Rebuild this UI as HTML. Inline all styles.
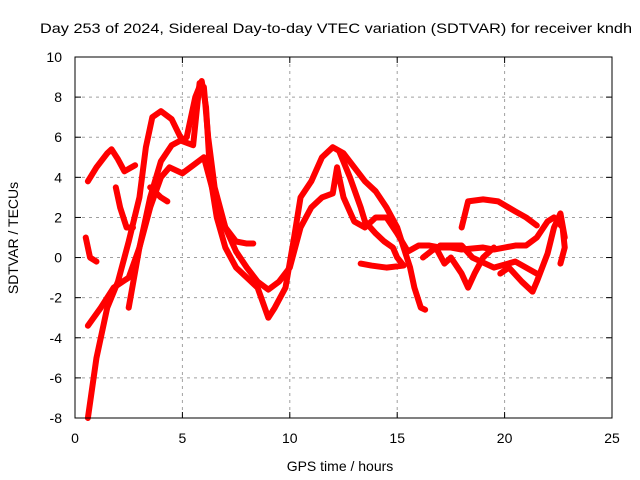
<!DOCTYPE html>
<html><head><meta charset="utf-8"><style>
body{margin:0;background:#fff}
svg{display:block}
text{font-family:"Liberation Sans",Arial,sans-serif}
</style></head><body>
<svg id="chart" width="640" height="480" font-family="Liberation Sans, sans-serif">
<text x="40" y="33" font-size="14" textLength="592" lengthAdjust="spacingAndGlyphs">Day 253 of 2024, Sidereal Day-to-day VTEC variation (SDTVAR) for receiver kndh</text>
<g id="grid"></g><g id="series"></g><g id="axes"></g>
<text x="340" y="471" font-size="14" text-anchor="middle">GPS time / hours</text>
<text transform="translate(18,238) rotate(-90)" font-size="14" text-anchor="middle">SDTVAR / TECUs</text>
</svg>
<script>
const xTicks=[0,5,10,15,20,25];
const yTicks=[-8,-6,-4,-2,0,2,4,6,8,10];
const arcA=[[0.6,3.8],[1.0,4.5],[1.5,5.2],[1.7,5.4],[2.0,4.9],[2.3,4.3],[2.8,4.6]];
const arcB=[[0.6,-8],[0.8,-6.5],[1.0,-5],[1.5,-2.5],[2.0,-1.2],[2.5,0.8],[3.0,3.0],[3.3,5.5],[3.6,7.0],[4.0,7.3],[4.5,6.9],[5.0,5.8],[5.5,5.6],[5.8,8.7],[6.0,8.5],[6.2,6.0],[6.5,3.5],[7.0,1.5],[7.5,0.8],[8.0,0.7],[8.3,0.7]];
const arcC=[[2.5,-2.5],[3.0,0.5],[3.5,3.0],[4.0,4.8],[4.5,5.6],[5.2,6.0],[5.6,8.0],[5.9,8.8],[6.1,7.5],[6.3,4.0],[6.6,2.0],[7.0,0.5],[7.5,-0.5],[8.0,-1.0],[8.5,-1.5],[9.0,-3.0],[9.3,-2.5],[9.8,-1.5],[10.2,1.0],[10.5,3.0],[11.0,3.8],[11.5,5.0],[12.0,5.5],[12.5,5.2],[13.0,4.5],[13.5,3.8],[14.0,3.3],[14.5,2.5],[15.0,1.5],[15.3,0.5],[15.6,-0.5],[15.8,-1.5],[16.1,-2.5],[16.3,-2.6]];
const arcD=[[0.6,-3.4],[1.2,-2.5],[1.8,-1.5],[2.5,-1.0],[3.0,0.5],[3.5,2.5],[4.0,4.0],[4.4,4.5],[5.0,4.2],[5.5,4.6],[6.0,5.0],[6.5,3.0],[7.0,1.5],[7.5,0.3],[8.0,-0.5],[8.5,-1.2],[9.0,-1.6],[9.5,-1.2],[10.0,-0.5],[10.5,1.5],[11.0,2.5],[11.5,3.0],[12.0,3.2],[12.2,4.5],[12.5,3.0],[13.0,1.8],[13.5,1.5],[14.0,2.0],[14.5,2.0],[15.0,1.2],[15.5,0.3],[16.0,0.6],[16.5,0.6],[17.0,0.5],[17.5,0.5],[18.0,0.4],[19.0,0.5],[19.5,0.4],[20.0,0.5],[20.5,0.6],[21.0,0.6],[21.5,1.0],[22.0,1.8],[22.3,2.0],[22.7,1.5],[22.8,0.5],[22.6,-0.3]];
const arcE=[[12.3,5.3],[12.8,4.0],[13.3,2.5],[13.5,1.8],[14.0,1.2],[14.4,0.8],[14.8,0.5],[15.0,0.0],[15.3,-0.4],[14.5,-0.5],[13.8,-0.4],[13.3,-0.3]];
const arcF=[[18.0,1.5],[18.3,2.8],[19.0,2.9],[19.7,2.8],[20.5,2.3],[21.0,2.0],[21.5,1.6]];
const arcG=[[16.2,0.0],[16.8,0.5],[17.2,-0.3],[17.5,0.0],[18.0,-0.8],[18.3,-1.5],[18.6,-0.8],[19.0,0.0],[19.5,0.5]];
const arcH=[[19.8,-0.8],[20.2,-0.5],[20.8,-1.2],[21.3,-1.7],[21.5,-1.2],[22.0,0.2],[22.3,1.5],[22.6,2.2],[22.8,1.0]];
const arcI=[[0.5,1.0],[0.7,0.0],[1.0,-0.2]];
const arcJ=[[1.9,3.5],[2.1,2.5],[2.4,1.5],[2.7,1.5]];
const arcK=[[3.5,3.5],[4.0,3.0],[4.3,2.8]];
const arcL=[[17.0,0.6],[18.0,0.6],[18.5,0.0],[19.5,-0.5],[20.5,-0.2],[21.5,-0.8]];
const arcs=[arcA,arcB,arcC,arcD,arcE,arcF,arcG,arcH,arcI,arcJ,arcK,arcL];
const X0=75,X1=612,Y0=418,Y1=57;
const sx=v=>X0+(v-0)/25*(X1-X0);
const sy=v=>Y0-(v+8)/18*(Y0-Y1);
const NS="http://www.w3.org/2000/svg";
function mk(t,a,p){const e=document.createElementNS(NS,t);for(const k in a)e.setAttribute(k,a[k]);p.appendChild(e);return e;}
const grid=document.getElementById('grid'),axes=document.getElementById('axes'),ser=document.getElementById('series');
xTicks.forEach(t=>{const x=sx(t);
 if(t>0&&t<25){const g=mk('line',{x1:x,y1:Y1,x2:x,y2:Y0,stroke:'#a0a0a0','stroke-dasharray':'3,4'},grid);}
 mk('line',{x1:x,y1:Y0,x2:x,y2:Y0-6,stroke:'#000'},axes);mk('line',{x1:x,y1:Y1,x2:x,y2:Y1+6,stroke:'#000'},axes);
 const l=mk('text',{x:x,y:Y0+25,'font-size':14,'text-anchor':'middle'},axes);l.textContent=t;
 });
yTicks.forEach(t=>{const y=sy(t);
 if(t>-8&&t<10){const g=mk('line',{x1:X0,y1:y,x2:X1,y2:y,stroke:'#a0a0a0','stroke-dasharray':'3,4'},grid);}
 mk('line',{x1:X0,y1:y,x2:X0+6,y2:y,stroke:'#000'},axes);mk('line',{x1:X1,y1:y,x2:X1-6,y2:y,stroke:'#000'},axes);
 const l=mk('text',{x:X0-13,y:y+5,'font-size':14,'text-anchor':'end'},axes);l.textContent=t;
 });
const fr=mk('rect',{x:X0,y:Y1,width:X1-X0,height:Y0-Y1,fill:'none',stroke:'#000'},axes);


arcs.forEach((a,i)=>{const p=mk('polyline',{points:a.map(d=>sx(d[0])+','+sy(d[1])).join(' '),fill:'none',stroke:'#ff0000','stroke-width':6,'stroke-linejoin':'round','stroke-linecap':'round'},ser);
 
 });
</script>
</body></html>
